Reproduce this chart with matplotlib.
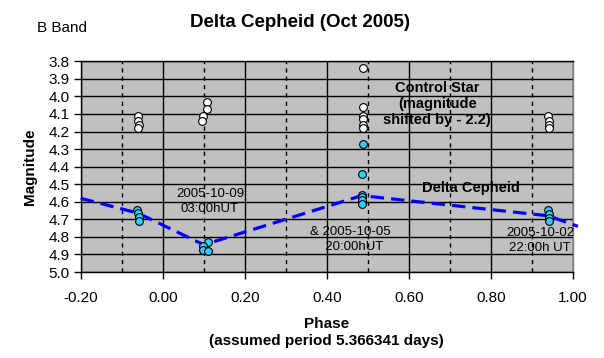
import matplotlib
matplotlib.use("Agg")
import matplotlib.pyplot as plt
from matplotlib.ticker import MultipleLocator, FormatStrFormatter

plt.rcParams['font.family'] = ['Liberation Sans', 'DejaVu Sans']

# Control star (magnitude shifted by -2.2)
ctrl_phase = [-0.061, -0.060, -0.059, -0.060,
              0.107, 0.107, 0.097, 0.095,
              0.488, 0.488, 0.487, 0.487, 0.487, 0.487,
              0.940, 0.941, 0.941, 0.941]
ctrl_mag = [4.11, 4.14, 4.16, 4.18,
            4.03, 4.07, 4.11, 4.14,
            3.84, 4.06, 4.11, 4.13, 4.16, 4.18,
            4.11, 4.14, 4.16, 4.18]

# Delta Cephei
dc_phase = [-0.062, -0.060, -0.059, -0.059,
            0.110, 0.097, 0.097, 0.110,
            0.487, 0.486, 0.486, 0.486, 0.486, 0.486,
            0.940, 0.941, 0.941, 0.942]
dc_mag = [4.645, 4.665, 4.685, 4.71,
          4.83, 4.85, 4.875, 4.883,
          4.27, 4.44, 4.56, 4.575, 4.59, 4.61,
          4.645, 4.67, 4.69, 4.71]

# Light-curve guide line
curve_phase = [-0.20, -0.06, 0.10, 0.485, 0.94, 1.012]
curve_mag = [4.58, 4.665, 4.845, 4.565, 4.68, 4.74]

fig = plt.figure(figsize=(6.04, 3.58), dpi=100)
ax = fig.add_axes([0.1336, 0.2402, 0.8151, 0.5886])
ax.set_facecolor('#C0C0C0')

ax.set_xlim(-0.2, 1.0)
ax.set_ylim(5.0, 3.8)

ax.xaxis.set_major_locator(MultipleLocator(0.2))
ax.xaxis.set_minor_locator(MultipleLocator(0.1))
ax.yaxis.set_major_locator(MultipleLocator(0.1))
ax.xaxis.set_major_formatter(FormatStrFormatter('%.2f'))
ax.yaxis.set_major_formatter(FormatStrFormatter('%.1f'))

ax.grid(which='major', axis='y', color='black', linewidth=1.0, linestyle='-')
ax.grid(which='major', axis='x', color='black', linewidth=1.0, linestyle='-')
ax.grid(which='minor', axis='x', color='black', linewidth=1.0, linestyle=(0, (3, 3)))
ax.set_axisbelow(True)

ax.tick_params(axis='both', which='major', direction='out', length=5, width=1,
               labelsize=11, colors='black', pad=3)
ax.tick_params(axis='x', which='minor', length=0)
ax.tick_params(axis='x', which='major', pad=9)

for s in ['left', 'bottom', 'top']:
    ax.spines[s].set_color('black')
    ax.spines[s].set_linewidth(1)
ax.spines['right'].set_color('#808080')
ax.spines['right'].set_linewidth(1)

ax.plot(curve_phase, curve_mag, color='#0000FF', linewidth=2.3,
        linestyle=(0, (4.2, 2.2)), zorder=3, clip_on=False)

ax.plot(ctrl_phase, ctrl_mag, linestyle='none', marker='o', markersize=5.6,
        markerfacecolor='white', markeredgecolor='black', markeredgewidth=0.8, zorder=4)
ax.plot(dc_phase, dc_mag, linestyle='none', marker='o', markersize=5.6,
        markerfacecolor='#33CCFF', markeredgecolor='black', markeredgewidth=0.8, zorder=4)

ann_font = ['Liberation Sans Narrow', 'Liberation Sans', 'DejaVu Sans']
ax.text(0.115, 4.597, '2005-10-09\n03:00hUT', fontsize=9.5, family=ann_font,
        ha='center', va='center', linespacing=1.35, zorder=5)
ax.text(0.457, 4.815, '& 2005-10-05\n  20:00hUT', fontsize=9.5, family=ann_font,
        ha='center', va='center', linespacing=1.35, zorder=5)
ax.text(0.92, 4.82, '2005-10-02\n22:00h UT', fontsize=9.5, family=ann_font,
        ha='center', va='center', linespacing=1.35, zorder=5)
ax.text(0.752, 4.52, 'Delta Cepheid', fontsize=10.5, fontweight='bold',
        ha='center', va='center', zorder=5)
ax.text(0.669, 4.045, 'Control Star\n(magnitude\nshifted by - 2.2)', fontsize=10.5,
        fontweight='bold', ha='center', va='center', linespacing=1.17, zorder=5)

ax.set_xlabel('Phase\n(assumed period 5.366341 days)', fontsize=11,
              fontweight='bold', labelpad=8, linespacing=1.3)
ax.set_ylabel('Magnitude', fontsize=11, fontweight='bold', labelpad=8)

fig.text(0.497, 0.9385, 'Delta Cepheid (Oct 2005)', fontsize=13.5, fontweight='bold',
         ha='center', va='center')
fig.text(0.061, 0.922, 'B Band', fontsize=11, ha='left', va='center')

fig.savefig('out.png', dpi=100, facecolor='white')
